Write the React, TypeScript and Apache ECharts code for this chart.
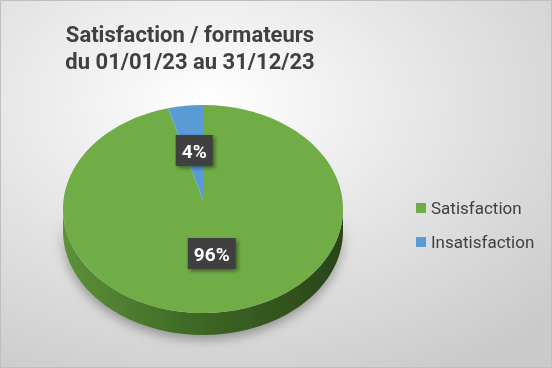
import React, { useEffect, useRef } from "react";
import * as echarts from "echarts";

const titleLines = ["Satisfaction / formateurs", "du 01/01/23 au 31/12/23"];
const categories = ["Satisfaction", "Insatisfaction"];
const values = [96, 4];
const percentLabels = ["96%", "4%"];

const COLORS = ["#70AD47", "#5B9BD5"];
const CX = 203;
const CY = 209;
const RX = 140;
const RY = 104;
const DEPTH = 22;
const APEX_DY = -9;
const LABEL_F = 0.5;

const total = values.reduce((a, b) => a + b, 0);

function pt(theta: number, dy = 0): number[] {
  return [CX + RX * Math.sin(theta), CY - RY * Math.cos(theta) + dy];
}

function arc(a: number, b: number, dy = 0): number[][] {
  const pts: number[][] = [];
  const n = Math.max(2, Math.ceil(((b - a) / (2 * Math.PI)) * 240));
  for (let i = 0; i <= n; i++) pts.push(pt(a + ((b - a) * i) / n, dy));
  return pts;
}

function makeRenderItem(idx: number) {
  return (params: any, api: any) => {
    const v = api.value(0);
    let before = 0;
    for (let i = 0; i < idx; i++) before += values[i];
    const a = (before / total) * 2 * Math.PI;
    const b = a + (v / total) * 2 * Math.PI;
    const children: any[] = [];
    const s0 = Math.max(a, Math.PI / 2);
    const s1 = Math.min(b, (3 * Math.PI) / 2);
    if (s1 > s0) {
      const top = arc(s0, s1, 0);
      const bot = arc(s0, s1, DEPTH).reverse();
      children.push({
        type: "polygon",
        shape: { points: top.concat(bot) },
        style: {
          fill: {
            type: "linear",
            x: 0,
            y: 0,
            x2: 1,
            y2: 0,
            colorStops: [
              { offset: 0, color: "#5e9139" },
              { offset: 0.45, color: "#3f6a26" },
              { offset: 1, color: "#2a4419" },
            ],
          },
          shadowBlur: 12,
          shadowColor: "rgba(0,0,0,0.35)",
          shadowOffsetY: 4,
        },
        z2: 1,
      });
    }
    const apex = [CX, CY + APEX_DY];
    children.push({
      type: "polygon",
      shape: { points: [apex].concat(arc(a, b, 0)) },
      style: { fill: COLORS[idx] },
      z2: 2,
    });
    const mid = (a + b) / 2;
    const lx = CX + RX * LABEL_F * Math.sin(mid);
    const ly = CY - 7 - RY * LABEL_F * Math.cos(mid);
    const text = percentLabels[idx];
    const w = text.length > 2 ? 48 : 37;
    const h = 31;
    children.push({
      type: "rect",
      shape: { x: lx - w / 2, y: ly - h / 2, width: w, height: h },
      style: {
        fill: "#404040",
        shadowBlur: 4,
        shadowColor: "rgba(0,0,0,0.45)",
        shadowOffsetX: 2,
        shadowOffsetY: 2,
      },
      z2: 10,
    });
    children.push({
      type: "text",
      x: lx,
      y: ly + 1,
      style: {
        text,
        fill: "#ffffff",
        font: "bold 19px Roboto, sans-serif",
        align: "center",
        verticalAlign: "middle",
      },
      z2: 11,
    });
    return { type: "group", children };
  };
}

export default function App() {
  const ref = useRef<HTMLDivElement>(null);
  useEffect(() => {
    if (!ref.current) return;
    const chart = echarts.init(ref.current, undefined, { renderer: "svg" });
    chart.setOption({
      animation: false,
      backgroundColor: {
        type: "radial",
        x: 0.38,
        y: 0.28,
        r: 0.85,
        colorStops: [
          { offset: 0, color: "#ffffff" },
          { offset: 1, color: "#cacaca" },
        ],
      },
      title: {
        text: titleLines.join("\n"),
        left: 185,
        top: 16,
        textAlign: "center",
        textStyle: {
          fontFamily: "Roboto, sans-serif",
          fontSize: 22,
          fontWeight: "bold",
          color: "#404040",
          lineHeight: 27,
        },
      },
      legend: {
        orient: "vertical",
        left: 411,
        top: 193,
        itemWidth: 10,
        itemHeight: 10,
        itemGap: 14,
        icon: "rect",
        data: categories,
        textStyle: {
          fontFamily: "Roboto, sans-serif",
          fontSize: 17,
          color: "#404040",
          lineHeight: 20,
        },
      },
      graphic: [
        {
          type: "rect",
          shape: { x: 0.5, y: 0.5, width: 551, height: 367 },
          style: { fill: "none", stroke: "#bfbfbf", lineWidth: 1 },
          z: 100,
        },
      ],
      series: categories.map((name, idx) => ({
        type: "custom",
        name,
        coordinateSystem: "none",
        itemStyle: { color: COLORS[idx] },
        data: [[values[idx]]],
        renderItem: makeRenderItem(idx),
      })),
    });
    return () => chart.dispose();
  }, []);
  return (
    <div
      ref={ref}
      style={{ position: "fixed", left: 0, top: 0, width: 552, height: 368 }}
    />
  );
}
